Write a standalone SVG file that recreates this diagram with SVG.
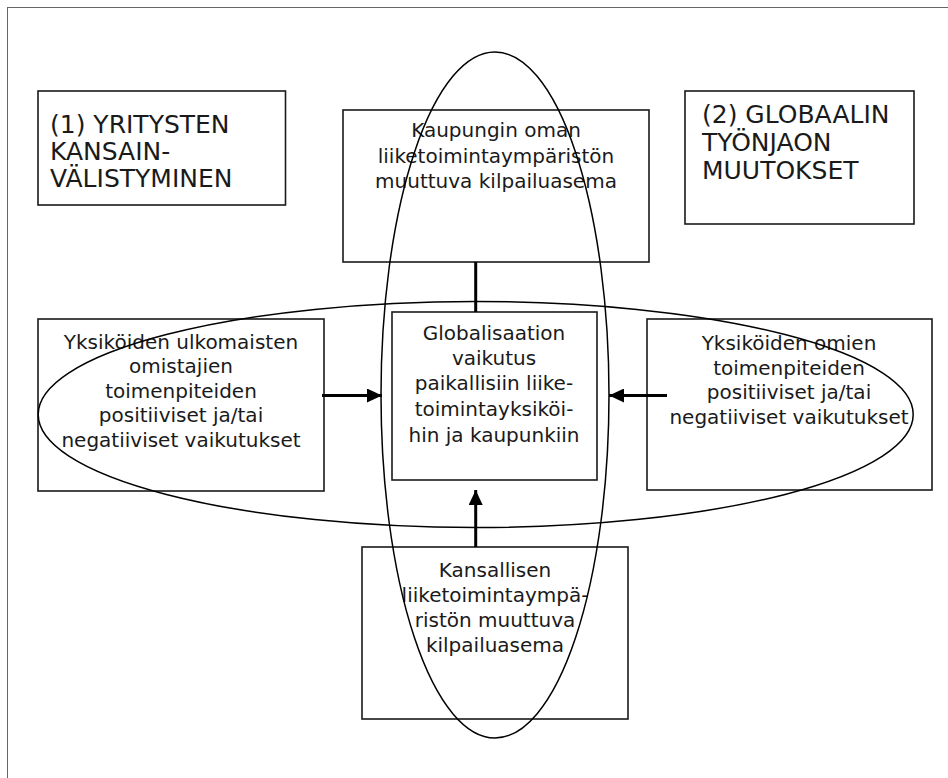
<svg xmlns="http://www.w3.org/2000/svg" width="948" height="778" viewBox="0 0 948 778">
<defs>
<marker id="ah" markerUnits="userSpaceOnUse" markerWidth="16" markerHeight="14" refX="15" refY="7" orient="auto">
<path d="M0,0 L15,7 L0,14 Z" fill="#000"/>
</marker>
<style>
.box{fill:#fff;stroke:#1a1a1a;stroke-width:1.6}
.t{font-family:"DejaVu Sans",sans-serif;font-size:20px;fill:#1a1a1a;text-anchor:middle}
.h{font-family:"DejaVu Sans",sans-serif;font-size:25px;fill:#1a1a1a}
.ell{fill:none;stroke:#000;stroke-width:1.5}
.c{stroke:#000;stroke-width:3;fill:none}
</style>
</defs>
<rect x="0" y="0" width="948" height="778" fill="#fff"/>
<rect x="7.5" y="7.5" width="1000" height="1000" fill="none" stroke="#666" stroke-width="1"/>

<g id="n1">
<rect class="box" x="38" y="91" width="247.5" height="114"/>
<text class="h" x="50" y="133">(1) YRITYSTEN</text>
<text class="h" x="50" y="160">KANSAIN-</text>
<text class="h" x="50" y="187">VÄLISTYMINEN</text>
</g>
<g id="n2">
<rect class="box" x="685" y="91" width="229" height="133"/>
<text class="h" x="702" y="123">(2) GLOBAALIN</text>
<text class="h" x="702" y="151">TYÖNJAON</text>
<text class="h" x="702" y="179">MUUTOKSET</text>
</g>
<g id="top">
<rect class="box" x="343" y="110" width="306" height="152"/>
<text class="t" x="496" y="137">Kaupungin oman</text>
<text class="t" x="496" y="163">liiketoimintaympäristön</text>
<text class="t" x="496" y="188">muuttuva kilpailuasema</text>
</g>
<g id="left">
<rect class="box" x="38" y="319" width="286" height="172"/>
<text class="t" x="181" y="348.5">Yksiköiden ulkomaisten</text>
<text class="t" x="181" y="373">omistajien</text>
<text class="t" x="181" y="397.5">toimenpiteiden</text>
<text class="t" x="181" y="422">positiiviset ja/tai</text>
<text class="t" x="181" y="446.5">negatiiviset vaikutukset</text>
</g>
<g id="center">
<rect class="box" x="392" y="312" width="205" height="168"/>
<text class="t" x="494" y="340">Globalisaation</text>
<text class="t" x="494" y="365">vaikutus</text>
<text class="t" x="494" y="390">paikallisiin liike-</text>
<text class="t" x="494" y="416">toimintayksiköi-</text>
<text class="t" x="494" y="441.5">hin ja kaupunkiin</text>
</g>
<g id="right">
<rect class="box" x="647" y="319" width="285" height="171"/>
<text class="t" x="789" y="350">Yksiköiden omien</text>
<text class="t" x="789" y="374.5">toimenpiteiden</text>
<text class="t" x="789" y="399">positiiviset ja/tai</text>
<text class="t" x="789" y="423.5">negatiiviset vaikutukset</text>
</g>
<g id="bottom">
<rect class="box" x="362" y="547" width="266" height="172"/>
<text class="t" x="495" y="576.5">Kansallisen</text>
<text class="t" x="495" y="601.5">liiketoimintaympä-</text>
<text class="t" x="495" y="626.5">ristön muuttuva</text>
<text class="t" x="495" y="651.5">kilpailuasema</text>
</g>

<g id="connectors">
<line class="c" x1="475.7" y1="262" x2="475.7" y2="312"/>
<line class="c" x1="322" y1="395.5" x2="382" y2="395.5" marker-end="url(#ah)"/>
<line class="c" x1="667" y1="395.5" x2="609" y2="395.5" marker-end="url(#ah)"/>
<line class="c" x1="475.7" y1="547" x2="475.7" y2="490" marker-end="url(#ah)"/>
</g>

<g id="ellipses">
<ellipse class="ell" cx="495" cy="395" rx="114" ry="343"/>
<ellipse class="ell" cx="475.7" cy="414.5" rx="437.5" ry="113"/>
</g>
</svg>
